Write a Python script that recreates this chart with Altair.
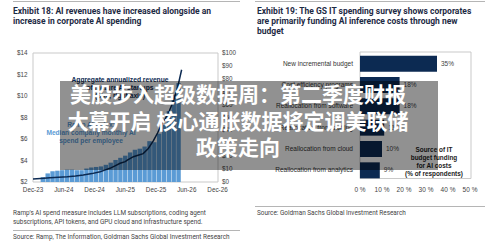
import altair as alt
import pandas as pd

# ---------------- Exhibit 18 ----------------
# Median company monthly AI spend per employee ($), monthly from Dec-23
spend_per_employee = [2.45, 2.8, 3.0, 3.05, 3.1, 3.15, 3.15, 3.1, 3.1, 3.25,
                      3.35, 3.4, 3.45, 3.6, 3.8, 4.05, 4.25, 4.45, 4.75, 5.0,
                      5.1, 5.3, 5.8, 5.7, 6.5, 7.3, 8.6, 10.1, 11.2]
# Aggregate annualized revenue of mature AI startups ($bn), months after Dec-23
rev_month = [0, 1.5, 3.3, 5, 6.7, 8.3, 9.8, 11.5, 13.1, 14, 15, 16, 17, 18,
             18.4, 19.6, 20.5, 21.5, 22.5, 23.5, 24.3, 25, 25.8, 26.6, 27.4,
             28.2, 29.0]
rev_bn = [2.3, 2.7, 3.3, 3.7, 4.1, 4.7, 5.4, 6.5, 8.0, 9.2, 10.6, 12.5, 14.5,
          15.8, 17, 19.6, 20.8, 22, 26, 32, 38, 44, 49, 55, 63, 73, 87]
month_ticks = [0, 6, 12, 18, 24, 30, 36]
month_labels = ["Dec-23", "Jun-24", "Dec-24", "Jun-25", "Dec-25", "Jun-26", "Dec-26"]
left_ticks = [2, 4, 6, 8, 10, 12, 14]
right_ticks = [0, 10, 20, 30, 40, 50, 60, 70, 80, 90, 100]

# ---------------- Exhibit 19 ----------------
sources = ["New incremental budget", "Cost efficiency programs",
           "Reallocation from software", "Reallocation from staffing",
           "Reallocation from cloud", "Reallocation from analytics"]
share = [35, 18, 18, 11, 10, 9]
pct_ticks = [0, 10, 20, 30, 40, 50]

SANS = "Liberation Sans"
HEAD = "Roboto"
NAVY = "#0c2a52"
LIGHT_BLUE = "#5b9bd5"
GREY_TXT = "#444444"

one = pd.DataFrame({"k": [0]})

XL = alt.Scale(domain=[0, 36], range=[33, 217.5])
YL = alt.Scale(domain=[2, 14], range=[182, 53])
YR = alt.Scale(domain=[0, 100], range=[182, 53])
XP = alt.Scale(domain=[0, 50], range=[360, 470])
YC = alt.Scale(domain=sources, range=[53, 181], paddingInner=0.25, paddingOuter=0.125)

bars_df = pd.DataFrame({"m": [i + 1 for i in range(len(spend_per_employee))],
                        "v": spend_per_employee})
line_df = pd.DataFrame({"m": rev_month, "v": rev_bn})
xt_df = pd.DataFrame({"m": month_ticks, "lab": month_labels})
yl_df = pd.DataFrame({"v": left_ticks, "lab": [f"${t}" for t in left_ticks]})
yr_df = pd.DataFrame({"v": right_ticks, "lab": [f"${t}" for t in right_ticks]})
src_df = pd.DataFrame({"src": sources, "pct": share,
                       "lab": [f"{p}%" for p in share]})
pt_df = pd.DataFrame({"p": pct_ticks, "lab": [f"{p} %" for p in pct_ticks]})


def text_lines(lines, x, ys, size, color, weight="normal", align="left", font=SANS):
    out = []
    for line, y in zip(lines, ys):
        out.append(alt.Chart(one).mark_text(
            text=line, align=align, baseline="middle", fontSize=size,
            fontWeight=weight, color=color, font=font
        ).encode(x=alt.value(x), y=alt.value(y)))
    return out


def hline(x1, x2, y, color="#b5b5b5", w=1):
    return alt.Chart(one).mark_rule(color=color, strokeWidth=w).encode(
        x=alt.value(x1), x2=alt.value(x2), y=alt.value(y))


def frame(x1, x2, y1, y2):
    return alt.Chart(one).mark_rect(fill=None, stroke="#c9c9c9", strokeWidth=1).encode(
        x=alt.value(x1), x2=alt.value(x2), y=alt.value(y1), y2=alt.value(y2))


layers = []

# rules framing the two exhibits
layers += [hline(13, 240, 1.5), hline(255, 485, 1.5),
           hline(13, 240, 230.5), hline(255, 485, 206.5)]

# titles
layers += text_lines(["Exhibit 18: AI revenues have increased alongside an",
                      "increase in corporate AI spending"],
                     13, [11, 21], 8.5, "#1d2a44", weight="bold", font=HEAD)
layers += text_lines(["Exhibit 19: The GS IT spending survey shows corporates",
                      "are primarily funding AI inference costs through new",
                      "budget"],
                     257, [11, 21, 31], 8.5, "#1d2a44", weight="bold", font=HEAD)

# ---- Exhibit 18 plot ----
layers.append(frame(33, 218, 53, 182))
layers.append(alt.Chart(bars_df).mark_bar(width=4.4, color=LIGHT_BLUE).encode(
    x=alt.X("m:Q", scale=XL, axis=None),
    y=alt.Y("v:Q", scale=YL, axis=None),
    y2=alt.datum(2)))
layers.append(alt.Chart(line_df).mark_line(color=NAVY, strokeWidth=1.5).encode(
    x=alt.X("m:Q", scale=XL, axis=None),
    y=alt.Y("v:Q", scale=YR, axis=None)))
layers.append(alt.Chart(xt_df).mark_text(fontSize=6.3, font=SANS, color=GREY_TXT,
                                         baseline="middle").encode(
    x=alt.X("m:Q", scale=XL, axis=None), y=alt.value(189.5), text="lab:N"))
layers.append(alt.Chart(yl_df).mark_text(fontSize=6.3, font=SANS, color=GREY_TXT,
                                         align="right", baseline="middle").encode(
    x=alt.value(27.5), y=alt.Y("v:Q", scale=YL, axis=None), text="lab:N"))
layers.append(alt.Chart(yr_df).mark_text(fontSize=6.3, font=SANS, color=GREY_TXT,
                                         align="left", baseline="middle").encode(
    x=alt.value(222), y=alt.Y("v:Q", scale=YR, axis=None), text="lab:N"))
layers += text_lines(["Aggregate annualized revenue", "of mature AI startups",
                      "($bn, right axis)"],
                     120, [80, 88, 96], 6.7, NAVY, weight="bold", align="center")
layers += text_lines(["Ramp AI Index:", "Median company monthly AI",
                      "spend per employee"],
                     91, [124.5, 132.5, 140.5], 6.6, LIGHT_BLUE, weight="bold",
                     align="center")
layers += text_lines(["Ramp's AI spend measure includes LLM subscriptions, coding agent",
                      "subscriptions, API tokens, and GPU cloud and infrastructure spend."],
                     13, [213, 221.5], 6.4, GREY_TXT, font=HEAD)
layers += text_lines(["Source: Ramp, The Information, Goldman Sachs Global Investment Research"],
                     13, [236.5], 6.4, GREY_TXT, font=HEAD)

# ---- Exhibit 19 plot ----
layers.append(frame(360, 471, 52, 178.5))
layers.append(alt.Chart(src_df).mark_bar(color=NAVY).encode(
    x=alt.X("pct:Q", scale=XP, axis=None),
    x2=alt.datum(0),
    y=alt.Y("src:N", scale=YC, axis=None, sort=sources)))
layers.append(alt.Chart(src_df).mark_text(fontSize=6.5, font=SANS, color=GREY_TXT,
                                          align="left", baseline="middle", dx=4).encode(
    x=alt.X("pct:Q", scale=XP, axis=None),
    y=alt.Y("src:N", scale=YC, axis=None, sort=sources), text="lab:N"))
layers.append(alt.Chart(src_df).mark_text(fontSize=6.5, font=SANS, color="#333333",
                                          align="right", baseline="middle").encode(
    x=alt.value(353),
    y=alt.Y("src:N", scale=YC, axis=None, sort=sources), text="src:N"))
layers.append(alt.Chart(pt_df).mark_text(fontSize=6.5, font=SANS, color=GREY_TXT,
                                         baseline="middle").encode(
    x=alt.X("p:Q", scale=XP, axis=None), y=alt.value(189.5), text="lab:N"))
layers += text_lines(["Source of IT", "budget funding", "for AI costs",
                      "(% of respondents)"],
                     434, [150, 158, 166, 173.5], 6.4, "#222222", weight="bold",
                     align="center")
layers += text_lines(["Source: Goldman Sachs Global Investment Research"],
                     257, [213], 6.4, GREY_TXT, font=HEAD)

# ---- headline banner ----
layers.append(alt.Chart(one).mark_rect(color="#000000", opacity=0.43).encode(
    x=alt.value(60), x2=alt.value(438), y=alt.value(81), y2=alt.value(170)))
layers += text_lines(["美股步入超级数据周：第二季度财报",
                      "大幕开启 核心通胀数据将定调美联储",
                      "政策走向"],
                     238, [96, 123, 148.5], 21, "#ffffff", weight="bold",
                     align="center", font="Noto Sans CJK SC")

chart = alt.layer(*layers).resolve_scale(
    x="independent", y="independent"
).properties(
    width=500, height=251, padding=0, autosize="none", background="#ffffff"
).configure_view(stroke=None)

chart.save("out.html", embed_options={"renderer": "svg", "actions": False})
